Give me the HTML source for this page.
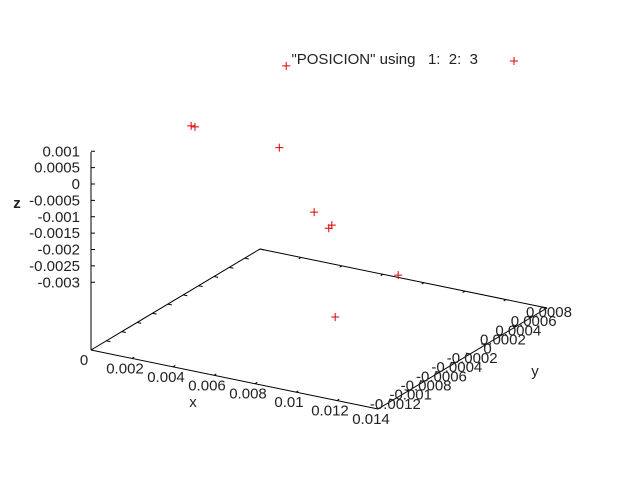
<!DOCTYPE html>
<html><head><meta charset="utf-8"><style>
html,body{margin:0;padding:0;background:#fff;}
svg{display:block;font-family:"Liberation Sans",sans-serif;}
text{fill:#222;font-size:15px;white-space:pre;}
</style></head><body>
<svg id="chart" width="640" height="480" viewBox="0 0 640 480" xmlns="http://www.w3.org/2000/svg">
<rect width="640" height="480" fill="#fff"/>
<g id="axes"></g>
<g id="points"></g>
<text x="478" y="64" text-anchor="end" xml:space="preserve">"POSICION" using   1:  2:  3</text>
<g stroke="#e00000" stroke-width="1">
<line x1="510" y1="61" x2="518" y2="61"/><line x1="514" y1="57" x2="514" y2="65"/>
</g>
<text x="193" y="407" text-anchor="middle">x</text>
<text x="535" y="376" text-anchor="middle">y</text>
<text x="17" y="208" text-anchor="middle" font-weight="bold">z</text>
</svg>
<script>
const xTicks = [0, 0.002, 0.004, 0.006, 0.008, 0.01, 0.012, 0.014];
const xTickLabels = ["0","0.002","0.004","0.006","0.008","0.01","0.012","0.014"];
const yTicks = [-0.0012,-0.001,-0.0008,-0.0006,-0.0004,-0.0002,0,0.0002,0.0004,0.0006,0.0008];
const yTickLabels = ["-0.0012","-0.001","-0.0008","-0.0006","-0.0004","-0.0002","0","0.0002","0.0004","0.0006","0.0008"];
const zTicks = [0.001,0.0005,0,-0.0005,-0.001,-0.0015,-0.002,-0.0025,-0.003];
const zTickLabels = ["0.001","0.0005","0","-0.0005","-0.001","-0.0015","-0.002","-0.0025","-0.003"];
const xValues = [0.002,0.002,0.006,0.006,0.008,0.008,0.008,0.01,0.01];
const yValues = [-0.00063,-0.00058,-0.00046,-0.00055,-0.00063,-0.0004,-0.00044,-0.00007,-0.00089];
const zValues = [0.00097,0.00087,0.00308,0.00071,-0.00089,-0.00161,-0.00165,-0.00334,-0.00347];

const XMIN=0,XMAX=0.014,YMIN=-0.0014,YMAX=0.0008,ZBASE=-0.00505;
function proj(x,y,z){
  const fx=(x-XMIN)/(XMAX-XMIN), fy=(y-YMIN)/(YMAX-YMIN);
  const sx=91+287*fx+169*fy;
  const sy=350+59*fx-101*fy-(z-ZBASE)*32750;
  return [sx,sy];
}
function zScreen(z){return 184-z*32750;}
const NS="http://www.w3.org/2000/svg";
const axes=document.getElementById('axes');
function line(p,q,name){
  const l=document.createElementNS(NS,'line');
  l.setAttribute('x1',p[0]);l.setAttribute('y1',p[1]);l.setAttribute('x2',q[0]);l.setAttribute('y2',q[1]);
  l.setAttribute('stroke','#000');l.setAttribute('stroke-width','1');
  
  
  axes.appendChild(l);
}
function text(x,y,s,anchor,name){
  const t=document.createElementNS(NS,'text');
  t.setAttribute('x',x);t.setAttribute('y',y);t.setAttribute('text-anchor',anchor);t.textContent=s;
  
  
  axes.appendChild(t);
}
const cL=proj(XMIN,YMIN,ZBASE),cF=proj(XMAX,YMIN,ZBASE),cR=proj(XMAX,YMAX,ZBASE),cB=proj(XMIN,YMAX,ZBASE);
line(cL,cF,'x-axis-line');line(cF,cR,'y-axis-line');line(cR,cB,'back-x-edge');line(cB,cL,'back-y-edge');
xTicks.forEach((v,i)=>{
  const a=proj(v,YMIN,ZBASE),b=proj(v,YMIN+0.00003,ZBASE);
  line(a,b,'x-tick');
  const c=proj(v,YMAX,ZBASE),d=proj(v,YMAX-0.00003,ZBASE);
  line(c,d,'x-mirror-tick');
  text(a[0]-7,a[1]+15,xTickLabels[i],'middle','x-tick-label');
});
yTicks.forEach((v,i)=>{
  const a=proj(XMAX,v,ZBASE),b=proj(XMAX-0.0002,v,ZBASE);
  line(a,b,'y-tick');
  const c=proj(XMIN,v,ZBASE),d=proj(XMIN+0.0002,v,ZBASE);
  line(c,d,'y-mirror-tick');
  text(a[0]+2,a[1]+9,yTickLabels[i],'middle','y-tick-label');
});
line([91,152],[91,350],'z-axis-line');
zTicks.forEach((v,i)=>{
  const y=zScreen(v);
  line([91,y],[95,y],'z-tick');
  text(80,y+5,zTickLabels[i],'end','z-tick-label');
});
const pts=document.getElementById('points');
xValues.forEach((x,i)=>{
  const p=proj(x,yValues[i],zValues[i]);
  const g=document.createElementNS(NS,'path');
  g.setAttribute('d',`M${p[0]-4},${p[1]}H${p[0]+4}M${p[0]},${p[1]-4}V${p[1]+4}`);
  g.setAttribute('stroke','#e00000');g.setAttribute('stroke-width','1');
  
  
  pts.appendChild(g);
});
</script>
</body></html>
